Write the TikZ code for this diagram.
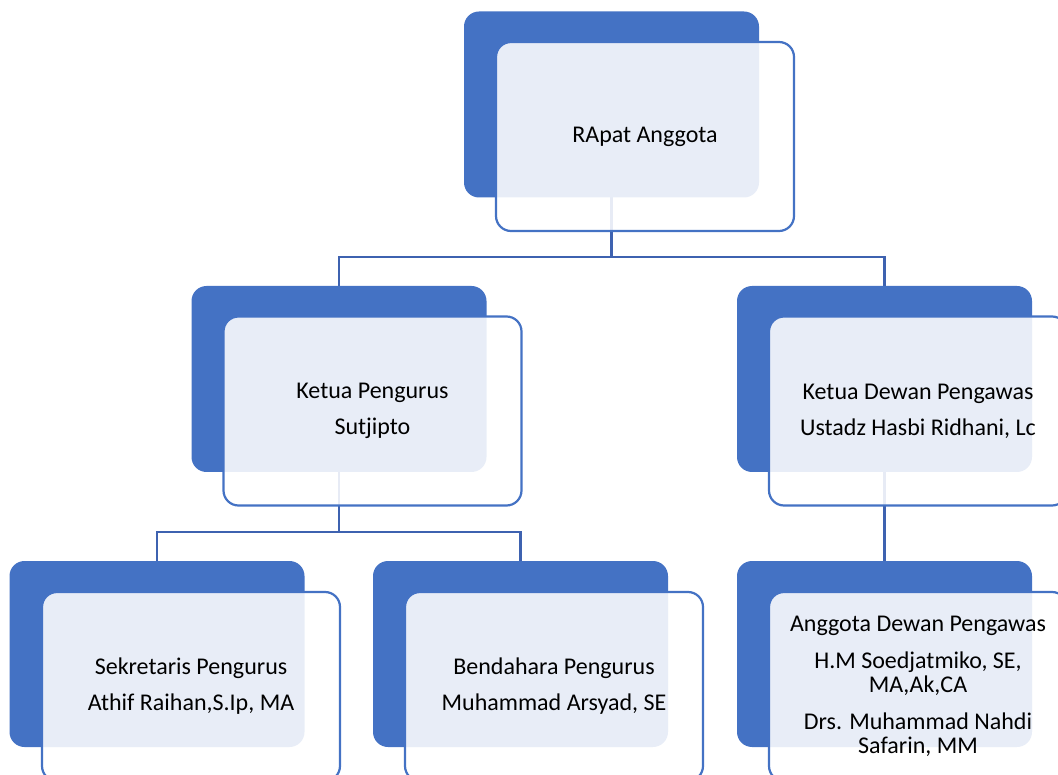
\documentclass[tikz,border=0pt]{standalone}
\usepackage{fontspec}
\setmainfont{Carlito}
\usetikzlibrary{calc}
\definecolor{boxblue}{RGB}{68,114,196}
\definecolor{connblue}{RGB}{62,98,176}
\tikzset{
  backbox/.style={fill=boxblue, draw=none, rounded corners=15pt,
    minimum width=295pt, minimum height=186pt, inner sep=0pt},
  frontbox/.style={fill=white, fill opacity=0.88, text opacity=1,
    draw=boxblue, draw opacity=1, line width=2.2pt, rounded corners=15pt,
    minimum width=298pt, minimum height=189pt, inner sep=0pt,
    align=center, font=\fontsize{24}{24}\selectfont},
  conn/.style={draw=connblue, line width=2.6pt}
}
\begin{document}
\begin{tikzpicture}[x=1pt,y=-1pt]
\useasboundingbox (0,0) rectangle (1058,775);
\clip (0,0) rectangle (1058,775);
\coordinate (ctop) at (611.5,104.5);
\coordinate (cl2l) at (339,379);
\coordinate (cl2r) at (884.5,379);
\coordinate (cl3l) at (157,654);
\coordinate (cl3m) at (520.5,654);
\coordinate (cl3r) at (884.5,654);
\coordinate (j1) at (611.5,257);
\coordinate (j2) at (339,532);
% connectors (drawn first, under the boxes)
\draw[conn] (ctop) -- (j1);
\draw[conn] (j1) -| (cl2l);
\draw[conn] (j1) -| (cl2r);
\draw[conn] (cl2l) -- (j2);
\draw[conn] (j2) -| (cl3l);
\draw[conn] (j2) -| (cl3m);
\draw[conn] (cl2r) -- (cl3r);
% units
\node[backbox] (btop) at (ctop) {};
\node[frontbox] (top) at ($(ctop)+(33.5,32)$) {\raisebox{-3pt}{RApat Anggota}};
\node[backbox] (bl2l) at (cl2l) {};
\node[frontbox] (l2l) at ($(cl2l)+(33.5,32)$) {Ketua Pengurus\\[12pt]Sutjipto};
\node[backbox] (bl2r) at (cl2r) {};
\node[frontbox] (l2r) at ($(cl2r)+(33.5,32)$) {Ketua Dewan Pengawas\\[12pt]Ustadz Hasbi Ridhani, Lc};
\node[backbox] (bl3l) at (cl3l) {};
\node[frontbox] (l3l) at ($(cl3l)+(34,32.5)$) {Sekretaris Pengurus\\[12pt]Athif Raihan,S.Ip, MA};
\node[backbox] (bl3m) at (cl3m) {};
\node[frontbox] (l3m) at ($(cl3m)+(33.5,32.5)$) {Bendahara Pengurus\\[12pt]Muhammad Arsyad, SE};
\node[backbox] (bl3r) at (cl3r) {};
\node[frontbox] (l3r) at ($(cl3r)+(33.5,32.5)$) {Anggota Dewan Pengawas\\[13pt]H.M Soedjatmiko, SE,\\MA,Ak,CA\\[13pt]Drs. Muhammad Nahdi\\Safarin, MM};
\end{tikzpicture}
\end{document}
